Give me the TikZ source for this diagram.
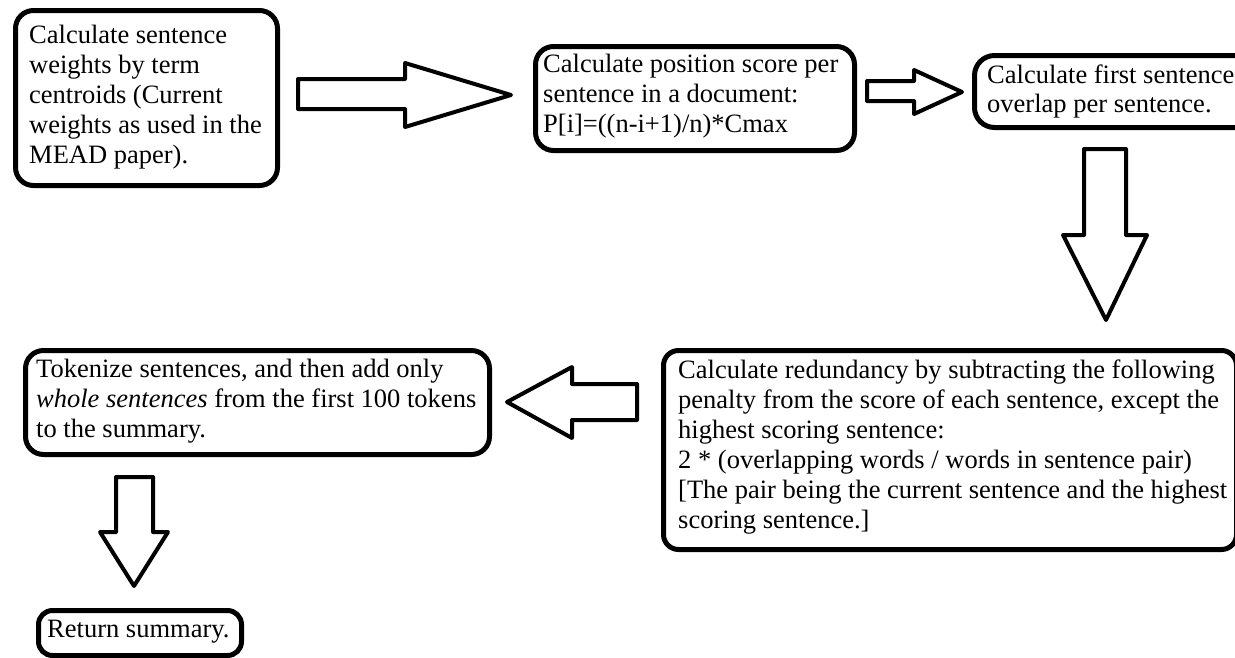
\documentclass[tikz,border=0pt]{standalone}
\usepackage{fontspec}
\setmainfont{Liberation Serif}
\begin{document}
\begin{tikzpicture}[x=1pt,y=-1pt,
  box/.style={draw, line width=5pt, rounded corners=18pt, anchor=north west,
              inner sep=0pt, fill=white},
  txt/.style={anchor=base west, inner sep=0pt, font=\fontsize{26.5}{30}\selectfont},
  blockarrow/.style={draw, line width=4pt, fill=white, line join=round}]
\useasboundingbox (0,0) rectangle (1235,657);
\clip (0,0) rectangle (1235,657);
\fill[white] (0,0) rectangle (1235,657);

% process boxes
\node[box, minimum width=262pt, minimum height=175pt] (b1) at (13,8) {};
\node[box, minimum width=319pt, minimum height=104pt] (b2) at (533,44) {};
\node[box, minimum width=330pt, minimum height=72pt, rounded corners=20pt] (b3) at (972,53) {};
\node[box, minimum width=573pt, minimum height=199pt, rounded corners=15pt] (b4) at (661,348) {};
\node[box, minimum width=464pt, minimum height=104pt] (b5) at (23,348) {};
\node[box, minimum width=203pt, minimum height=45pt, rounded corners=14pt] (b6) at (36,608) {};

% box texts
\node[txt] (t1) at (29,43) {\parbox[t]{600pt}{Calculate sentence\\weights by term\\centroids (Current\\weights as used in the\\MEAD paper).}};
\node[txt] (t2) at (543,72) {\parbox[t]{600pt}{Calculate position score per\\sentence in a document:\\P[i]=((n-i+1)/n)*Cmax}};
\node[txt] (t3) at (987,83) {\parbox[t]{600pt}{Calculate first sentence\\[-1pt]overlap per sentence.}};
\node[txt] (t4) at (678,378) {\parbox[t]{700pt}{Calculate redundancy by subtracting the following\\penalty from the score of each sentence, except the\\highest scoring sentence:\\2 * (overlapping words / words in sentence pair)\\{[}The pair being the current sentence and the highest\\scoring sentence.]}};
\node[txt] (t5) at (36,377) {\parbox[t]{600pt}{Tokenize sentences, and then add only\\\textit{whole sentences} from the first 100 tokens\\to the summary.}};
\node[txt] (t6) at (47,637) {Return summary.};

% block arrows between the steps
\draw[blockarrow] (298,79) -- (405,79) -- (405,63) -- (511,95) -- (405,127)
  -- (405,109) -- (298,109) -- cycle;
\draw[blockarrow] (867,81) -- (914,81) -- (914,70) -- (962,92) -- (914,114)
  -- (914,101) -- (867,101) -- cycle;
\draw[blockarrow] (1084,149) -- (1126,149) -- (1126,235) -- (1147,235) -- (1106,320)
  -- (1063,235) -- (1084,235) -- cycle;
\draw[blockarrow] (637,384) -- (572,384) -- (572,367) -- (507,402) -- (572,438)
  -- (572,420) -- (637,420) -- cycle;
\draw[blockarrow] (116,477) -- (153,477) -- (153,532) -- (168,532) -- (134,586)
  -- (100,532) -- (116,532) -- cycle;
\end{tikzpicture}
\end{document}
